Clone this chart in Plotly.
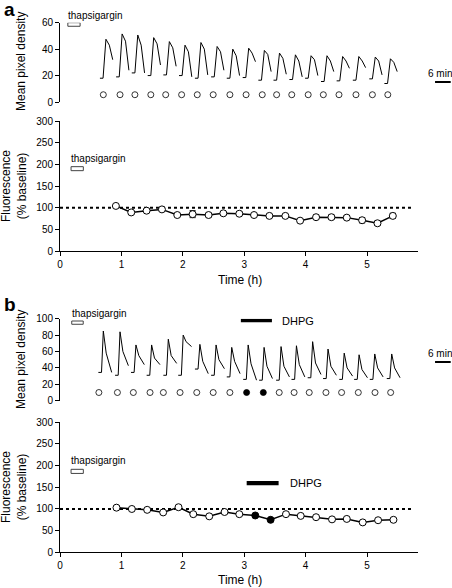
import plotly.graph_objects as go

FONT = "Liberation Sans, Arial, sans-serif"

# ---------------- Panel a, top: Ca2+ traces (display time in min) ----------------
a_clip_start = [15.3, 21.5, 27.5, 33.6, 39.6, 45.6, 51.7, 57.9, 63.9, 70.0,
                76.0, 81.8, 87.9, 93.9, 100.0, 106.0, 112.2, 118.5, 124.3]
a_base = [18, 19, 22, 20, 20.5, 20, 18, 19, 18, 18.5, 16.5, 16.5, 17, 18, 15.5, 16, 16.5, 17.5, 14]
a_peak = [47.5, 51.5, 50.7, 48.7, 45.7, 43, 45, 42, 40, 40.7, 39, 37, 35.7, 35, 35, 34.4, 34.4, 34, 32.7]
a_shoulder = [43, 46, 43, 44, 41, 38, 40, 38, 35, 37, 36, 33, 31, 32, 31, 31, 31, 31, 30]
a_end = [32, 24, 22, 28, 27, 19, 20.5, 24, 20, 30.5, 23, 21, 19, 20, 23, 25.5, 26, 20.5, 23]
a_sample_min = [16.6, 23.0, 28.7, 34.8, 40.5, 46.6, 52.6, 58.7, 65.1, 71.3,
                77.5, 83.0, 88.8, 95.1, 100.9, 106.9, 113.4, 119.7, 125.6]
a_sample_level = 5.5

# ---------------- Panel a, bottom: fluorescence ----------------
a_time_h = [0.91, 1.16, 1.41, 1.66, 1.91, 2.16, 2.42, 2.66, 2.92, 3.16,
            3.41, 3.67, 3.91, 4.17, 4.42, 4.67, 4.92, 5.17, 5.42]
a_fluor = [104, 89, 93, 96, 83, 85, 83, 87, 86, 83, 81, 81, 70, 78, 78, 77, 71, 64, 81]
a_err = [2, 3, 2, 2, 3, 8, 4, 4, 4, 3, 3, 3, 3, 5, 5, 4, 6, 5, 6]

# ---------------- Panel b, top: Ca2+ traces ----------------
b_clip_start = [14.7, 21.1, 27.2, 33.2, 39.6, 45.3, 51.7, 57.9, 63.9, 70.2,
                76.3, 82.8, 88.7, 94.9, 100.8, 107.0, 112.7, 118.7, 125.2]
b_base = [34.5, 31, 34.5, 31, 31, 31, 38.6, 31, 29, 26, 25, 25, 26, 28, 27, 26, 26, 26, 27]
b_peak = [85, 84, 68, 68, 75, 80, 68.7, 68, 65, 68, 65, 66, 67, 72, 63, 58, 56, 57, 57]
b_mid = [58, 60, 55, 52, 55, 72, 48, 50, 48, 45, 42, 42, 44, 46, 42, 40, 38, 40, 40]
b_end = [34.5, 42.7, 44, 44, 45.5, 66, 33, 39, 33, 25, 27, 29, 29, 32, 31, 30, 28, 29, 28]
b_sample_min = [14.9, 22.0, 28.1, 34.5, 39.6, 46.0, 52.4, 58.7, 65.1, 71.5,
                77.9, 84.0, 89.7, 95.5, 101.9, 107.9, 114.3, 120.7, 126.7]
b_sample_level = 10
b_dhpg_samples = [9, 10]

# ---------------- Panel b, bottom: fluorescence ----------------
b_time_h = [0.92, 1.17, 1.42, 1.68, 1.93, 2.17, 2.43, 2.68, 2.92, 3.18,
            3.43, 3.68, 3.92, 4.17, 4.43, 4.67, 4.93, 5.18, 5.43]
b_fluor = [103, 100, 98, 92, 104, 88, 83, 93, 88, 85, 75, 88, 84, 81, 76, 77, 69, 74, 75]

# time points inside each displayed clip (min): start, rise onset, peak, shoulder, end
a_clip_t = [0, 1.2, 2.3, 3.6, 4.9]
b_clip_t = [0, 1.2, 1.9, 3.0, 5.1]

# drug application periods
thap_top_a_min = (3.0, 7.7)
thap_top_b_min = (4.5, 8.9)
thap_h = (0.18, 0.38)
dhpg_top_min = (69.3, 81.2)
dhpg_h = (3.04, 3.56)
scale_min = (143.7, 149.7)
top_xmax = 150.2


def clips(starts, offs, cols):
    xs, ys = [], []
    for i, s in enumerate(starts):
        vals = [cols[0][i], cols[0][i], cols[1][i], cols[2][i], cols[3][i]]
        xs += [s + o for o in offs] + [None]
        ys += vals + [None]
    return xs, ys


fig = go.Figure()

# top a traces
xs, ys = clips(a_clip_start, a_clip_t, [a_base, a_peak, a_shoulder, a_end])
fig.add_trace(go.Scatter(x=xs, y=ys, mode="lines",
                         line=dict(color="black", width=1),
                         xaxis="x", yaxis="y", hoverinfo="skip"))
fig.add_trace(go.Scatter(x=a_sample_min, y=[a_sample_level] * len(a_sample_min), mode="markers",
                         marker=dict(size=6, color="white", line=dict(color="black", width=0.8)),
                         xaxis="x", yaxis="y", cliponaxis=False))

# bottom a
fig.add_trace(go.Scatter(x=[0, 5.75], y=[100, 100], mode="lines",
                         line=dict(color="black", width=2, dash="dot"), xaxis="x2", yaxis="y2"))
fig.add_trace(go.Scatter(x=a_time_h, y=a_fluor, mode="lines+markers",
                         line=dict(color="black", width=1.5),
                         error_y=dict(type="data", array=a_err, color="black", thickness=1, width=3),
                         marker=dict(size=7, color="white", line=dict(color="black", width=1)),
                         xaxis="x2", yaxis="y2", cliponaxis=False))

# top b traces
xs, ys = clips(b_clip_start, b_clip_t, [b_base, b_peak, b_mid, b_end])
fig.add_trace(go.Scatter(x=xs, y=ys, mode="lines",
                         line=dict(color="black", width=1),
                         xaxis="x3", yaxis="y3", hoverinfo="skip"))
b_fill = ["black" if i in b_dhpg_samples else "white" for i in range(len(b_sample_min))]
fig.add_trace(go.Scatter(x=b_sample_min, y=[b_sample_level] * len(b_sample_min), mode="markers",
                         marker=dict(size=6, color=b_fill, line=dict(color="black", width=0.8)),
                         xaxis="x3", yaxis="y3", cliponaxis=False))

# bottom b
fig.add_trace(go.Scatter(x=[0, 5.75], y=[100, 100], mode="lines",
                         line=dict(color="black", width=2, dash="dot"), xaxis="x4", yaxis="y4"))
b_fill2 = ["black" if i in b_dhpg_samples else "white" for i in range(len(b_time_h))]
fig.add_trace(go.Scatter(x=b_time_h, y=b_fluor, mode="lines+markers",
                         line=dict(color="black", width=1.5),
                         marker=dict(size=7, color=b_fill2, line=dict(color="black", width=1)),
                         xaxis="x4", yaxis="y4", cliponaxis=False))

tickfont = dict(family=FONT, size=10, color="black")
XD = [60 / 452, 1.0]
XDB = [60 / 452, 418 / 452]


def yax(domain, rng, tv, anchor):
    return dict(domain=domain, range=rng, tickvals=tv, ticks="outside", ticklen=4,
                tickcolor="black", showline=True, linecolor="black", linewidth=1,
                showgrid=False, zeroline=False, tickfont=tickfont, anchor=anchor,
                automargin=False)


def xbot(domain, anchor):
    return dict(domain=domain, range=[0, 5.83], tickvals=[0, 1, 2, 3, 4, 5], ticks="outside",
                ticklen=4, tickcolor="black", showline=True, linecolor="black", linewidth=1,
                showgrid=False, zeroline=False, tickfont=tickfont, anchor=anchor,
                automargin=False)


def ypaper(px):
    return 1 - px / 588


fig.update_layout(
    width=452, height=588, margin=dict(l=0, r=0, t=0, b=0, autoexpand=False),
    paper_bgcolor="white", plot_bgcolor="white", showlegend=False,
    font=dict(family=FONT, color="black"),
    xaxis=dict(domain=XD, range=[0, top_xmax], visible=False, anchor="y", automargin=False),
    yaxis=yax([ypaper(102), ypaper(22.7)], [0, 60], [0, 20, 40, 60], "x"),
    xaxis2=xbot(XDB, "y2"),
    yaxis2=yax([ypaper(251), ypaper(121)], [0, 300], [0, 50, 100, 150, 200, 250, 300], "x2"),
    xaxis3=dict(domain=XD, range=[0, top_xmax], visible=False, anchor="y3", automargin=False),
    yaxis3=yax([ypaper(400.7), ypaper(318.7)], [0, 100], [0, 20, 40, 60, 80, 100], "x3"),
    xaxis4=xbot(XDB, "y4"),
    yaxis4=yax([ypaper(552.3), ypaper(422.3)], [0, 300], [0, 50, 100, 150, 200, 250, 300], "x4"),
)

shapes = []
ann = []
lab = dict(family=FONT, size=10, color="black")

# thapsigargin boxes + labels (top panels)
for xr, yr, (x0, x1), (y0, y1) in [("x", "y", thap_top_a_min, (57.3, 60)),
                                   ("x3", "y3", thap_top_b_min, (93.2, 97.2))]:
    shapes.append(dict(type="rect", xref=xr, yref=yr, x0=x0, x1=x1, y0=y0, y1=y1,
                       line=dict(color="#444", width=1), fillcolor="white"))
    ann.append(dict(xref=xr, yref=yr, x=x0, y=y1, text="thapsigargin", showarrow=False,
                    xanchor="left", yanchor="bottom", xshift=-2, font=lab))
# thapsigargin boxes + labels (bottom panels)
for xr, yr, (y0, y1) in [("x2", "y2", (185.4, 194.6)), ("x4", "y4", (182, 191.5))]:
    shapes.append(dict(type="rect", xref=xr, yref=yr, x0=thap_h[0], x1=thap_h[1], y0=y0, y1=y1,
                       line=dict(color="#444", width=1), fillcolor="white"))
    ann.append(dict(xref=xr, yref=yr, x=thap_h[0], y=y1, text="thapsigargin", showarrow=False,
                    xanchor="left", yanchor="bottom", xshift=-2, yshift=1, font=lab))

# DHPG bars
shapes.append(dict(type="rect", xref="x3", yref="y3", x0=dhpg_top_min[0], x1=dhpg_top_min[1],
                   y0=95.6, y1=100, line=dict(width=0), fillcolor="black"))
ann.append(dict(xref="x3", yref="y3", x=84.3, y=97, text="DHPG", showarrow=False,
                xanchor="left", yanchor="middle", font=dict(family=FONT, size=11, color="black")))
shapes.append(dict(type="rect", xref="x4", yref="y4", x0=dhpg_h[0], x1=dhpg_h[1],
                   y0=154.6, y1=164.6, line=dict(width=0), fillcolor="black"))
ann.append(dict(xref="x4", yref="y4", x=3.71, y=159, text="DHPG", showarrow=False,
                xanchor="left", yanchor="middle", font=dict(family=FONT, size=11, color="black")))

# 6 min scale bars
for xr, yr, yv in [("x", "y", 15.1), ("x3", "y3", 47.2)]:
    shapes.append(dict(type="line", xref=xr, yref=yr, x0=scale_min[0], x1=scale_min[1],
                       y0=yv, y1=yv, line=dict(color="black", width=2)))
    ann.append(dict(xref=xr, yref=yr, x=(scale_min[0] + scale_min[1]) / 2 - 1, y=yv,
                    text="6 min", showarrow=False, xanchor="center", yanchor="bottom",
                    yshift=1, font=lab))

# axis titles
tfont = dict(family=FONT, size=12, color="black")
for ypx in (62, 360):
    ann.append(dict(xref="paper", yref="paper", x=21 / 452, y=ypaper(ypx),
                    text="Mean pixel density", textangle=-90, showarrow=False, font=tfont,
                    xanchor="center", yanchor="middle"))
for ypx in (186, 487):
    ann.append(dict(xref="paper", yref="paper", x=14 / 452, y=ypaper(ypx),
                    text="Fluorescence<br>(% baseline)", textangle=-90, showarrow=False,
                    font=tfont, xanchor="center", yanchor="middle"))
for ypx in (280, 580):
    ann.append(dict(xref="paper", yref="paper", x=240 / 452, y=ypaper(ypx), text="Time (h)",
                    showarrow=False, font=tfont, xanchor="center", yanchor="middle"))

# panel letters
pl = dict(family=FONT, size=19, color="black")
ann.append(dict(xref="paper", yref="paper", x=2 / 452, y=ypaper(-3), text="<b>a</b>",
                showarrow=False, xanchor="left", yanchor="top", font=pl))
ann.append(dict(xref="paper", yref="paper", x=2 / 452, y=ypaper(292), text="<b>b</b>",
                showarrow=False, xanchor="left", yanchor="top", font=pl))

fig.update_layout(shapes=shapes, annotations=ann)
fig.write_html("out.html", config={"displayModeBar": False},
               post_script="document.body.style.margin='0';document.body.style.overflow='hidden';")
